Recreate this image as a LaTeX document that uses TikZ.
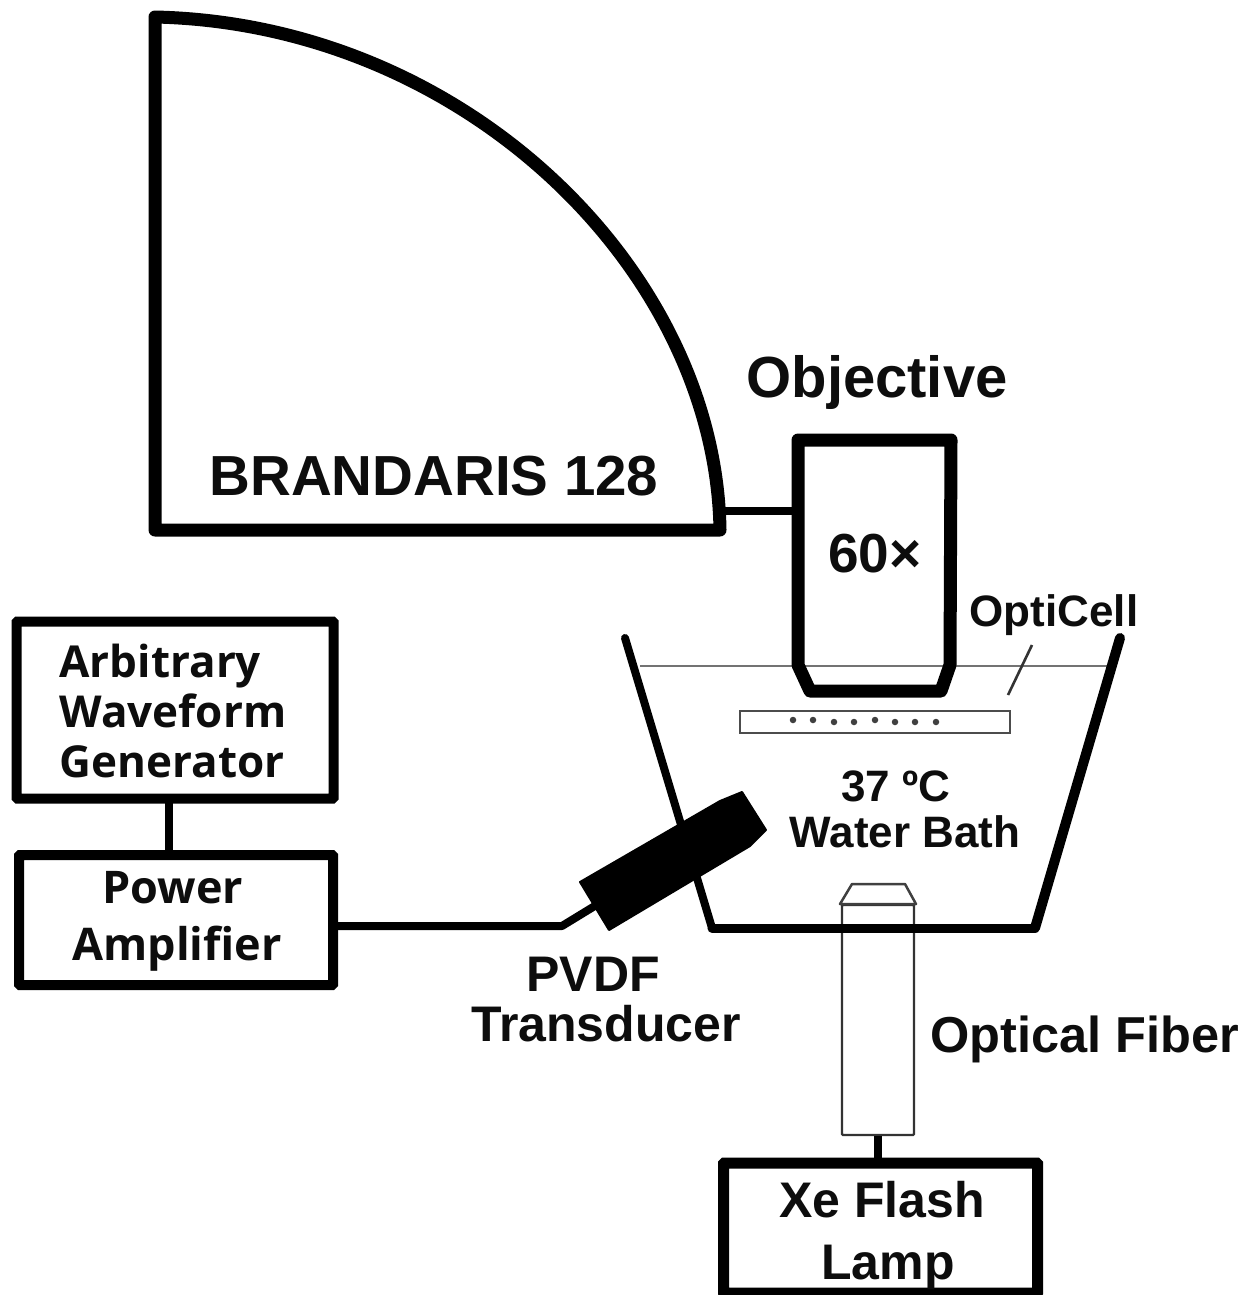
\documentclass[tikz,border=0pt]{standalone}
\usepackage{fontspec}
\setmainfont{Liberation Sans}
\newfontfamily\osans{Open Sans}
\newcommand{\fs}[2]{\fontsize{#1}{#2}\selectfont\bfseries}
\tikzset{
  box/.style={draw=black,fill=white,line width=10pt,rounded corners=1pt,inner sep=0pt,outer sep=0pt,align=center},
  wire/.style={draw=black,line width=8pt},
  heavy/.style={draw=black,line join=round,line cap=round},
  thin outline/.style={draw=black!75,line width=2.5pt,line join=round},
  label/.style={inner sep=0pt,outer sep=0pt,align=center,text=black!95},
  bead/.style={circle,fill=black!75,minimum size=6.5pt,inner sep=0pt},
}
\begin{document}
\begin{tikzpicture}[x=1pt,y=-1pt]
\useasboundingbox (0,0) rectangle (1259,1295);
% coordinates
\coordinate (camA) at (155,17);
\coordinate (camB) at (155,530);
\coordinate (camC) at (720,530);
\coordinate (camPort) at (722,511);
\coordinate (objPort) at (798,511);
\coordinate (bathTL) at (625,638);
\coordinate (bathBL) at (712,928);
\coordinate (bathBR) at (1035,928);
\coordinate (bathTR) at (1120,638);
\coordinate (waterL) at (640,666);
\coordinate (waterR) at (1113,666);
\coordinate (leaderA) at (1032,645);
\coordinate (leaderB) at (1008,695);
\coordinate (cableBend) at (562,926);
\coordinate (cableEnd) at (598,904);
% water
\draw[draw=black!55,line width=2.4pt] (waterL) -- (waterR);
% camera
\draw[heavy,line width=13pt] (camA) -- (camB) -- (camC)
  .. controls (716,270) and (465,24) .. (camA) -- cycle;
\node[label,font=\fs{56.5}{60}] (brandaris) at (434,476) {BRANDARIS 128};
% objective
\draw[heavy,line width=13pt] (798,440) -- (951,440) -- (950,665) -- (941,691) -- (810,691) -- (798,665) -- cycle;
\draw[wire] (camPort) -- (objPort);
\node[label,font=\fs{58}{60}] (objlabel) at (877,383) {Objective};
\node[label,font=\fs{55}{60}] (mag) at (875,554) {60×};
% opticell
\node[draw=black!70,fill=white,line width=2.4pt,minimum width=270pt,minimum height=22pt,inner sep=0pt] (cell) at (875,722) {};
\foreach \i/\xx/\yy in {1/793/720,2/813/720,3/834/722,4/854/722,5/875/720,6/895/722,7/915/722,8/936/722}
  \node[bead] (b\i) at (\xx,\yy) {};
\draw[draw=black!80,line width=2.6pt] (leaderA) -- (leaderB);
\node[label,font=\fs{44}{48}] (optilabel) at (1054,615) {OptiCell};
\node[label,font=\fs{44}{46}] (bathlabel) at (905,809) {\hspace*{-18pt}37 ºC\\Water Bath};
% fiber
\node[draw=black!80,fill=white,line width=2.4pt,minimum width=72pt,minimum height=230pt,inner sep=0pt,rounded corners=1pt] (fiber) at (878,1020) {};
\draw[thin outline,fill=white] (840,904) -- (852,884) -- (905,884) -- (916,904) -- cycle;
\node[label,font=\fs{50.5}{58}] (fiberlabel) at (1085,1039) {Optical Fiber};
% bath
\draw[heavy,line width=8pt] (bathTL) -- (bathBL);
\draw[heavy,line width=9pt] (bathBL) -- (bathBR);
\draw[heavy,line width=10pt] (bathBR) -- (bathTR);
% xe lamp
\node[box,line width=11pt,minimum width=314pt,minimum height=130pt] (lamp) at (880.5,1228) {};
\node[label,font=\fs{50}{62}] (lamptext) at (885,1236) {\hspace*{-6pt}Xe Flash\\\hspace*{6pt}Lamp};
\draw[wire] (fiber.south) -- (fiber.south |- lamp.north);
% transducer
\draw[draw=black,fill=black,line width=2pt,line join=round] (580,882) -- (720,801) -- (742,792) -- (766,830) -- (750,846) -- (609,930) -- cycle;
\node[label,font=\fs{50}{50}] (pvdf) at (606,1000) {\hspace*{-26pt}PVDF\\Transducer};
% generator and amplifier
\node[box,minimum width=317pt,minimum height=177pt] (awg) at (175,710) {};
\node[label,font=\osans\fs{44}{51}] (awgtext) at (173,717) {\begin{tabular}{@{}l@{}}Arbitrary\\[-1pt]Waveform\\[-1pt]Generator\end{tabular}};
\node[box,minimum width=314pt,minimum height=130pt] (amp) at (176,920) {};
\node[label,font=\osans\fs{45}{57}] (amptext) at (177,921) {\hspace*{-8pt}Power\\Amplifier};
\draw[wire] (awg.south -| 169,0) -- (amp.north -| 169,0);
\draw[wire,line join=round] (amp.east |- cableBend) -- (cableBend) -- (cableEnd);
\end{tikzpicture}
\end{document}
